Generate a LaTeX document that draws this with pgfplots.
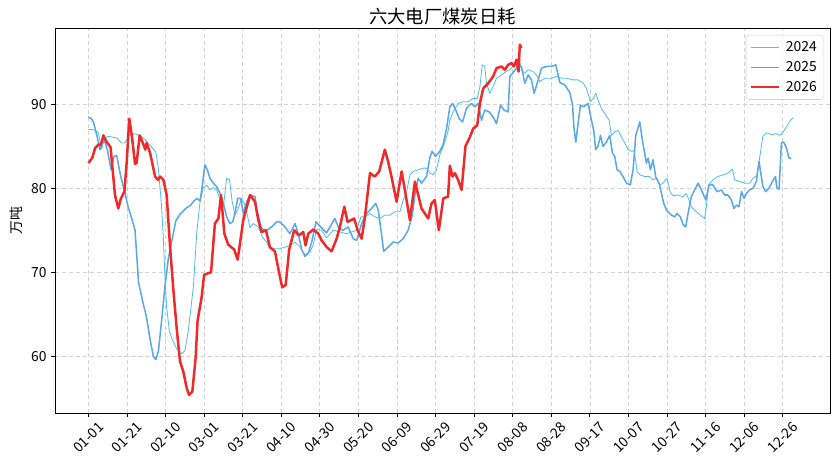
\documentclass[border=0pt]{standalone}
\usepackage{fontspec}
\setmainfont{Noto Sans CJK SC}
\usepackage{pgfplots}
\usepackage{pgfplotstable}
\pgfplotsset{compat=1.18}
\definecolor{c24}{RGB}{78,192,232}
\definecolor{c25}{RGB}{92,168,230}
\definecolor{c26}{RGB}{240,42,42}

\pgfplotstableread{
d v
0 87.0
1.7 87.0
3.5 86.9
5.2 86.6
6.9 84.7
8.5 86.0
10.4 86.2
12.1 86.1
14.7 86.0
17.3 85.4
19.0 85.4
21.0 86.3
24.2 86.5
27.0 86.2
29.4 85.8
31.5 85.2
33.7 84.7
35.1 84.2
36.3 82.3
37.8 78.3
38.9 74.0
39.7 69.5
40.6 65.8
42.0 63.0
43.5 62.0
45.8 60.9
48.4 60.3
50.1 60.7
51.8 63.0
53.3 66.0
54.5 68.4
55.3 71.5
56.3 75.0
57.9 78.4
59.6 80.1
61.3 80.4
63.1 79.8
64.8 80.1
66.5 79.8
68.5 78.5
70.0 77.8
71.7 81.2
73.2 81.0
74.5 78.5
76.0 76.8
77.7 77.6
79.5 78.8
81.2 78.0
82.6 76.6
83.8 75.3
85.5 75.8
88.1 75.4
90.2 74.2
92.4 73.6
94.1 72.8
96.7 72.8
99.0 72.8
101.9 73.0
104.5 73.2
107.1 73.6
109.7 73.0
112.3 72.1
114.9 72.4
116.6 73.3
118.3 75.1
120.9 75.0
123.5 74.1
126.9 75.0
130.4 74.8
133.9 74.6
136.5 74.8
139.1 75.0
141.3 76.6
143.4 76.6
146.0 77.0
148.5 76.6
151.1 76.4
153.7 76.8
156.3 76.8
158.9 77.2
161.5 77.2
163.2 78.6
165.0 79.6
166.7 81.6
168.4 82.0
171.0 82.2
173.6 82.4
175.3 82.4
177.0 81.8
178.8 81.6
180.5 82.2
182.2 84.0
184.4 85.2
186.5 86.8
187.4 88.1
189.1 89.1
191.7 90.1
194.3 90.3
196.9 90.3
199.5 90.7
201.6 90.7
203.0 92.1
204.2 94.7
205.5 94.5
206.4 92.5
208.1 91.3
209.8 92.1
211.6 93.1
214.2 93.5
216.8 93.9
219.4 94.3
222.0 95.3
223.3 95.5
224.5 94.1
226.3 93.7
228.0 94.1
230.6 93.9
232.3 93.5
234.0 92.7
236.6 93.1
240.1 93.1
242.7 93.3
245.3 93.1
247.9 93.1
251.3 92.9
253.9 92.9
256.5 92.5
258.2 91.9
260.3 90.3
261.7 90.7
263.1 91.3
264.2 90.5
266.0 89.5
267.7 88.9
270.0 88.1
271.2 86.3
272.9 86.7
274.6 86.9
276.4 86.1
278.1 85.4
279.8 84.6
281.6 84.4
283.0 84.5
284.5 82.0
285.9 81.6
288.4 81.4
291.0 81.4
292.7 81.0
294.5 81.2
296.2 80.4
297.9 80.6
300.0 81.2
301.6 79.6
303.1 79.1
305.7 79.2
308.3 79.0
310.0 79.4
311.4 78.6
312.6 77.8
315.2 77.2
317.8 76.7
319.5 76.4
320.4 77.8
321.5 80.4
323.8 81.0
326.4 81.4
329.0 81.6
331.6 81.8
333.9 82.3
335.1 81.0
337.7 80.8
340.3 80.6
342.8 80.6
344.6 81.2
346.6 81.5
348.0 83.6
349.7 86.2
351.5 86.6
354.1 86.4
356.7 86.5
358.5 86.3
360.2 86.7
361.9 87.3
364.0 88.1
365.5 88.4
}\tyearA

\pgfplotstableread{
d v
0 88.5
1.5 88.3
2.6 87.9
4.3 86.4
6.0 84.6
7.8 86.1
9.8 84.6
11.8 82.2
13.3 83.8
14.7 83.9
16.8 81.4
19.0 79.4
20.7 77.7
22.5 76.4
24.2 75.0
25.0 72.3
26.0 68.8
28.5 66.2
30.2 64.6
32.0 62.0
33.7 60.0
35.0 59.6
36.3 60.6
38.0 64.3
39.7 68.3
41.5 71.7
43.5 74.0
45.3 76.1
47.5 76.9
49.2 77.3
51.0 77.7
52.7 77.9
54.4 78.4
56.2 78.8
57.9 78.5
59.0 80.2
60.4 82.8
61.7 82.2
63.0 81.2
64.8 80.6
66.5 80.2
68.2 79.4
70.0 78.2
71.7 76.6
73.4 75.8
74.8 76.0
76.0 77.0
77.4 78.8
79.0 78.8
80.3 77.0
82.1 78.4
83.8 79.2
86.4 79.0
87.3 77.4
89.8 75.2
92.4 75.0
95.0 75.4
97.6 76.0
99.3 76.0
101.9 75.4
104.5 74.6
107.1 75.8
108.8 74.6
110.6 72.7
112.3 71.9
114.0 72.3
115.7 73.5
118.0 76.0
120.0 75.5
123.5 74.7
125.8 75.6
127.8 76.4
129.9 75.2
132.1 75.0
134.7 75.4
137.3 74.0
139.1 73.8
141.7 75.8
144.3 77.0
146.8 77.6
149.0 78.2
150.3 77.4
151.7 75.0
153.1 72.5
155.4 73.0
158.0 73.6
160.6 73.5
163.2 74.0
165.8 75.0
167.9 76.8
169.3 79.2
171.0 81.2
172.7 80.6
175.3 81.4
177.0 83.6
178.2 84.4
180.0 83.8
182.2 84.4
183.9 85.2
185.7 87.1
187.4 89.7
188.8 90.1
190.5 89.3
192.2 88.3
194.0 87.9
196.0 89.5
198.6 90.1
200.4 89.7
202.1 90.1
203.8 88.1
205.5 89.3
207.8 89.1
209.8 88.5
211.6 87.7
213.7 89.9
215.5 89.3
217.6 89.1
218.5 93.3
220.6 93.9
222.8 94.5
224.5 94.5
226.3 92.5
228.0 93.5
229.7 92.9
231.1 91.3
233.2 92.9
234.9 94.3
237.5 94.5
240.1 94.5
242.3 94.7
244.4 92.6
247.0 92.3
249.6 91.4
251.0 90.0
251.7 87.3
252.7 85.5
253.9 87.7
255.1 89.9
256.8 89.7
259.1 90.1
260.8 88.1
262.0 86.9
263.0 84.6
264.2 85.0
265.5 86.3
266.8 85.0
268.6 85.5
270.3 86.3
271.7 84.2
272.9 83.8
274.1 82.2
275.5 82.0
277.2 81.4
279.0 80.6
281.0 80.4
282.4 82.2
283.8 86.3
285.9 87.9
287.2 85.7
288.4 84.2
289.3 83.0
290.2 83.6
291.4 82.2
292.7 83.4
294.1 81.4
295.9 80.6
297.1 79.4
298.3 78.2
299.7 77.4
302.3 76.8
304.0 76.6
305.2 77.0
306.9 76.6
308.3 75.7
309.7 75.4
310.9 77.0
312.6 79.0
314.3 79.8
316.1 80.6
317.8 79.8
320.1 78.6
321.8 80.4
323.8 80.4
325.9 79.6
328.2 79.8
329.9 79.2
331.6 79.2
333.4 78.6
334.6 77.6
336.0 78.0
337.3 77.8
338.6 79.6
339.9 78.8
341.2 79.4
342.8 79.8
344.6 80.0
346.3 80.8
347.7 83.2
348.5 82.0
349.7 80.2
351.1 79.6
352.8 80.0
354.6 80.8
356.2 81.4
357.0 80.0
358.1 79.9
359.3 85.4
360.5 85.5
361.9 84.8
363.2 83.6
364.4 83.6
}\tyearB

\pgfplotstableread{
d v
0 83.0
2.0 83.6
3.5 84.8
5.2 85.2
6.5 85.2
7.8 86.3
9.5 85.5
11.5 84.9
13.8 79.2
15.5 77.6
16.9 78.8
18.7 79.6
19.9 83.2
21.2 88.3
22.5 86.3
24.2 82.9
25.0 83.0
26.6 86.3
28.4 85.3
29.5 84.6
30.2 85.4
32.0 84.2
34.6 81.4
36.0 81.0
37.2 81.4
38.9 81.0
40.6 79.2
42.3 73.2
44.0 68.1
45.8 63.3
47.5 59.4
49.2 58.2
51.0 56.2
52.2 55.4
53.9 55.8
55.6 59.8
56.6 64.2
58.7 67.0
60.0 69.7
62.2 69.9
63.6 70.0
65.6 75.8
67.4 76.4
68.8 79.2
70.5 74.6
72.5 73.3
75.6 72.7
77.4 71.5
80.3 76.2
83.8 79.2
86.4 78.4
88.1 76.2
89.8 74.8
92.1 75.0
94.1 73.0
96.7 72.5
99.3 69.5
100.5 68.2
102.3 68.5
104.1 72.7
106.7 75.0
109.2 74.4
111.4 74.8
112.6 73.2
114.0 74.6
116.6 75.1
119.2 74.6
120.9 73.8
123.5 73.0
126.1 72.5
128.7 74.0
130.4 75.4
132.7 77.8
134.4 76.0
137.8 76.4
139.6 75.0
141.7 74.0
143.4 76.6
146.0 81.8
148.5 81.4
150.8 82.0
153.7 84.6
155.4 83.2
157.5 81.0
159.8 78.4
162.4 82.0
164.1 79.8
166.7 76.2
169.3 80.8
172.7 77.6
176.2 76.4
177.9 78.2
179.6 78.6
181.7 75.0
184.0 78.8
186.5 79.0
187.4 82.7
188.8 81.4
190.0 81.8
191.7 81.0
193.5 79.8
195.5 85.0
197.8 86.1
199.5 87.1
201.6 87.5
203.0 90.1
204.7 91.9
207.3 92.5
209.8 93.3
211.6 94.3
214.2 94.5
215.9 94.1
217.6 94.7
219.4 94.9
220.6 94.5
222.0 95.3
223.0 93.9
223.7 97.1
224.5 96.7
}\tyearC

\begin{document}
\begin{tikzpicture}
\useasboundingbox (-39.6pt,-40.32pt) rectangle (564.48pt,297.36pt);
\begin{axis}[
  at={(0,0)}, anchor=south west,
  scale only axis, width=558pt, height=277.2pt,
  xmin=-17.3, xmax=384.5, ymin=53.25, ymax=99.08,
  xtick={0,20,...,360},
  xticklabels={01-01,01-21,02-10,03-01,03-21,04-10,04-30,05-20,06-09,06-29,07-19,08-08,08-28,09-17,10-07,10-27,11-16,12-06,12-26},
  ytick={60,70,80,90},
  tick align=outside, tick pos=left, major tick length=2.6pt,
  tick style={black, line width=0.6pt},
  axis line style={line width=0.6pt},
  grid=major,
  grid style={gray!35, line width=0.5pt, dash pattern=on 3pt off 2pt},
  /pgf/number format/assume math mode=true,
  tick label style={font=\fontsize{10}{12}\selectfont},
  xticklabel style={yshift=-15pt, rotate=45, anchor=center},
  title={六大电厂煤炭日耗},
  title style={font=\fontsize{13.2}{15}\selectfont, at={(axis description cs:0.5,1)}, anchor=base, yshift=-2.5pt},
  ylabel={万吨},
  ylabel style={font=\fontsize{10}{12}\selectfont, at={(axis description cs:-0.05,0.5)}, anchor=center},
  legend style={at={(axis description cs:0.9914,0.982)}, anchor=north east, draw=gray!35, rounded corners=2pt, fill=white, fill opacity=0.8, text opacity=1, font=\fontsize{10}{12}\selectfont, row sep=1.5pt, inner sep=2.5pt},
  legend cell align=left,
  legend image code/.code={\draw[#1] (0cm,0cm) -- (0.72cm,0cm);},
]
\addplot[c24, line width=0.6pt, line join=round] table[x=d, y=v] {\tyearA};
\addlegendentry{\hspace{2pt}2024}
\addplot[c25, line width=1.1pt, line join=round] table[x=d, y=v] {\tyearB};
\addlegendentry{\hspace{2pt}2025}
\addplot[c26, line width=1.8pt, line join=round] table[x=d, y=v] {\tyearC};
\addlegendentry{\hspace{2pt}2026}
\end{axis}
\end{tikzpicture}
\end{document}
